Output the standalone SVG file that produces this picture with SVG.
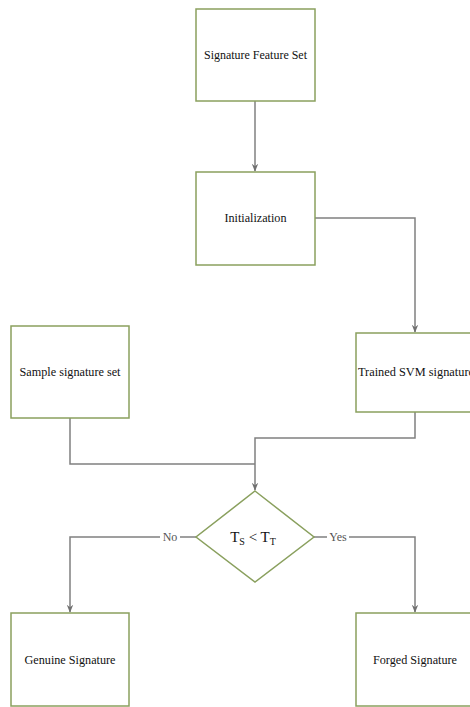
<svg xmlns="http://www.w3.org/2000/svg" width="470" height="707" viewBox="0 0 470 707">
<style>
.box{fill:#fff;stroke:#8aa05e;stroke-width:1.5}
.lbl{font-size:12px;fill:#111;text-anchor:middle;dominant-baseline:central}
.edge{fill:none;stroke:#808080;stroke-width:1.5}
.el{font-size:12px;fill:#555;text-anchor:middle;dominant-baseline:central}
</style>
<defs>
<marker id="arr" viewBox="0 0 10 10" refX="9" refY="5" markerWidth="8" markerHeight="8" markerUnits="userSpaceOnUse" orient="auto">
<path d="M0,1 L10,5 L0,9 L3,5 Z" fill="#707070"/>
</marker>
</defs>
<rect width="470" height="707" fill="#fff"/>
<g id="connectors" font-family="Liberation Serif, serif">
<path class="edge" d="M255,101 V171" marker-end="url(#arr)"/>
<path class="edge" d="M315,218 H415 V332" marker-end="url(#arr)"/>
<path class="edge" d="M70,418 V464 H255"/>
<path class="edge" d="M415,412 V438 H255 V490" marker-end="url(#arr)"/>
<path class="edge" d="M196,537 H70 V612" marker-end="url(#arr)"/>
<path class="edge" d="M314,537 H415 V612" marker-end="url(#arr)"/>
<rect x="160" y="530" width="20" height="14" fill="#fff"/>
<text class="el" x="170" y="537" font-family="Liberation Serif, serif">No</text>
<rect x="327" y="530" width="22" height="14" fill="#fff"/>
<text class="el" x="338" y="537" font-family="Liberation Serif, serif">Yes</text>
</g>
<g id="n-feature-set">
<rect class="box" x="196" y="9" width="119" height="92"/>
<text class="lbl" font-family="Liberation Serif, serif" x="255.5" y="55" textLength="103" lengthAdjust="spacingAndGlyphs">Signature Feature Set</text>
</g>
<g id="n-init">
<rect class="box" x="196" y="172" width="119" height="93"/>
<text class="lbl" font-family="Liberation Serif, serif" x="255.5" y="218" textLength="62" lengthAdjust="spacingAndGlyphs">Initialization</text>
</g>
<g id="n-sample">
<rect class="box" x="11" y="326" width="118" height="92"/>
<text class="lbl" font-family="Liberation Serif, serif" x="70" y="372" textLength="101" lengthAdjust="spacingAndGlyphs">Sample signature set</text>
</g>
<g id="n-trained">
<rect class="box" x="356" y="333" width="120" height="79"/>
<text class="lbl" font-family="Liberation Serif, serif" x="416" y="372" textLength="116" lengthAdjust="spacingAndGlyphs">Trained SVM signature</text>
</g>
<g id="n-decision">
<polygon class="box" points="255,491 314,537 255,582 196,537"/>
<text font-family="Liberation Serif, serif" font-size="15" fill="#111" x="253" y="542" text-anchor="middle">T<tspan font-size="10" dy="3">S</tspan><tspan dy="-3"> &lt; T</tspan><tspan font-size="10" dy="3">T</tspan></text>
</g>
<g id="n-genuine">
<rect class="box" x="11" y="613" width="118" height="93"/>
<text class="lbl" font-family="Liberation Serif, serif" x="70" y="660" textLength="91" lengthAdjust="spacingAndGlyphs">Genuine Signature</text>
</g>
<g id="n-forged">
<rect class="box" x="356" y="613" width="120" height="93"/>
<text class="lbl" font-family="Liberation Serif, serif" x="415" y="660" textLength="84" lengthAdjust="spacingAndGlyphs">Forged Signature</text>
</g>
</svg>
